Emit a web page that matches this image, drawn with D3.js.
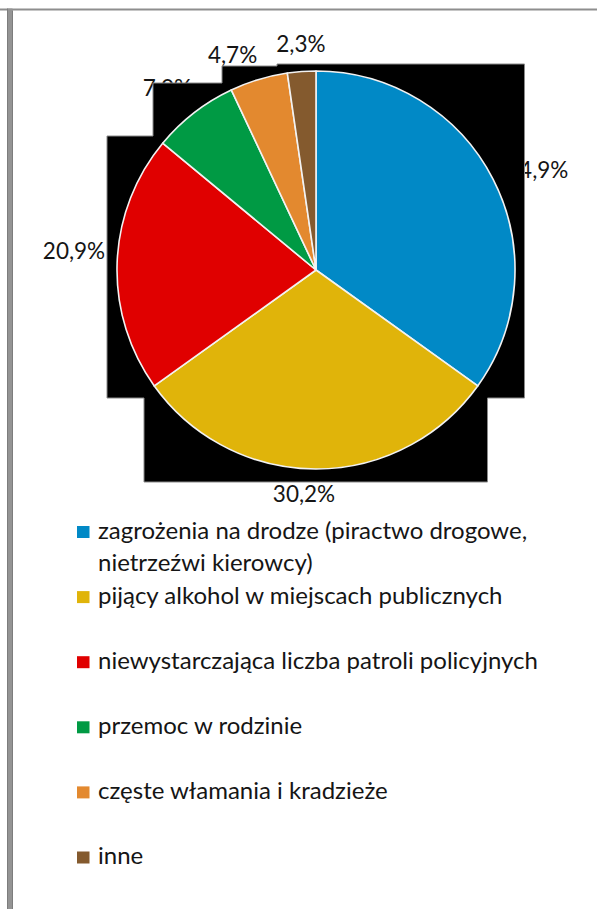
<!DOCTYPE html>
<html>
<head>
<meta charset="utf-8">
<script src="https://cdn.jsdelivr.net/npm/d3@7/dist/d3.min.js"></script>
<style>
  html, body { margin: 0; padding: 0; background: #ffffff; }
  svg { display: block; }
  text { font-family: Lato, "Noto Sans", sans-serif; fill: #151515; }
</style>
</head>
<body>
<svg id="chart" width="597" height="909"></svg>
<script>
// Survey answers: main safety threats (percent of responses)
const categories = [
  "zagrożenia na drodze (piractwo drogowe, nietrzeźwi kierowcy)",
  "pijący alkohol w miejscach publicznych",
  "niewystarczająca liczba patroli policyjnych",
  "przemoc w rodzinie",
  "częste włamania i kradzieże",
  "inne"
];
const values = [34.9, 30.2, 20.9, 7.0, 4.7, 2.3];
const colors = ["#0189c6", "#e0b40a", "#e00000", "#009a44", "#e3892f", "#845a2e"];

// Layout
const W = 597, H = 909;
const cx = 316, cy = 270, R = 199;
const labelFont = 22.5, legendFont = 24;
const labelGap = 14;
// fine adjustment of each percentage label (dx, dy)
const labelNudge = [[4, 1], [-12, 3], [2, -11], [-3, -7], [-15, -3], [2, -5.5]];

const svg = d3.select("#chart");
const fmt = v => d3.format(".1f")(v).replace(".", ",") + "%";

// frame lines
svg.append("rect").attr("x", 0).attr("y", 8.5).attr("width", W).attr("height", 2).attr("fill", "#8e8e8e");
svg.append("rect").attr("x", 7.5).attr("y", 8.5).attr("width", 5).attr("height", H).attr("fill", "#949494");
svg.append("line").attr("x1", 7.5).attr("x2", 7.5).attr("y1", 8.5).attr("y2", H).attr("stroke", "#7d7d7d").attr("stroke-width", 1);
svg.append("line").attr("x1", 12.5).attr("x2", 12.5).attr("y1", 10.5).attr("y2", H).attr("stroke", "#7d7d7d").attr("stroke-width", 1);

const data = categories.map((c, i) => ({ name: c, value: values[i], color: colors[i] }));
const pie = d3.pie().sort(null).value(d => d.value);
const arcs = pie(data);
const arc = d3.arc().innerRadius(0).outerRadius(R);

// percentage labels placed just outside the slice midpoints
const labels = svg.append("g").attr("class", "labels");
arcs.forEach((a, i) => {
  const mid = (a.startAngle + a.endAngle) / 2;
  const dx = Math.sin(mid), dy = -Math.cos(mid);
  const t = labels.append("text")
    .attr("font-size", labelFont)
    .attr("text-anchor", "middle")
    .text(fmt(a.data.value));
  const w = t.node().getComputedTextLength();
  const h = labelFont * 0.72;
  const px = cx + dx * (R + labelGap) + dx * w / 2 + labelNudge[i][0];
  const py = cy + dy * (R + labelGap) + dy * h / 2 + labelNudge[i][1];
  t.attr("x", px).attr("y", py + h / 2);
});

// dark plot backdrop behind the pie
const bx = [107 - cx, 144 - cx, 153 - cx, 222 - cx, 277 - cx, 487.5 - cx, 524.5 - cx];
const by = [64 - cy, 66 - cy, 83 - cy, 136 - cy, 398 - cy, 482 - cy];
const backdrop = [
  [bx[3], by[1]], [bx[4], by[1]], [bx[4], by[0]], [bx[6], by[0]],
  [bx[6], by[4]], [bx[5], by[4]], [bx[5], by[5]], [bx[1], by[5]],
  [bx[1], by[4]], [bx[0], by[4]], [bx[0], by[3]], [bx[2], by[3]],
  [bx[2], by[2]], [bx[3], by[2]]
];
svg.append("path")
  .attr("transform", `translate(${cx},${cy})`)
  .attr("d", d3.line()(backdrop) + "Z")
  .attr("fill", "#000")
  .attr("stroke", "#8a8a8a")
  .attr("stroke-width", 1);

// pie slices
svg.append("g")
  .attr("transform", `translate(${cx},${cy})`)
  .selectAll("path")
  .data(arcs)
  .join("path")
  .attr("d", arc)
  .attr("fill", d => d.data.color)
  .attr("stroke", "#f2f2f2")
  .attr("stroke-width", 1.6)
  .attr("stroke-linejoin", "round");

// legend
const legX = 77, legTextX = 98, legY0 = 538.5, legStep = 65.1, legLine = 32, legMaxW = 470;
const legend = svg.append("g").attr("class", "legend");
data.forEach((d, i) => {
  const y = legY0 + i * legStep;
  legend.append("rect")
    .attr("x", legX).attr("y", y - 12.5)
    .attr("width", 12.5).attr("height", 12)
    .attr("fill", d.color);
  const t = legend.append("text")
    .attr("x", legTextX).attr("y", y)
    .attr("font-size", legendFont);
  // wrap long names onto extra lines
  const words = d.name.split(" ");
  let line = [];
  let tspan = t.append("tspan").attr("x", legTextX).attr("y", y);
  let lineNo = 0;
  words.forEach(wd => {
    line.push(wd);
    tspan.text(line.join(" "));
    if (tspan.node().getComputedTextLength() > legMaxW && line.length > 1) {
      line.pop();
      tspan.text(line.join(" "));
      line = [wd];
      lineNo++;
      tspan = t.append("tspan").attr("x", legTextX).attr("y", y + lineNo * legLine).text(wd);
    }
  });
});
</script>
</body>
</html>
